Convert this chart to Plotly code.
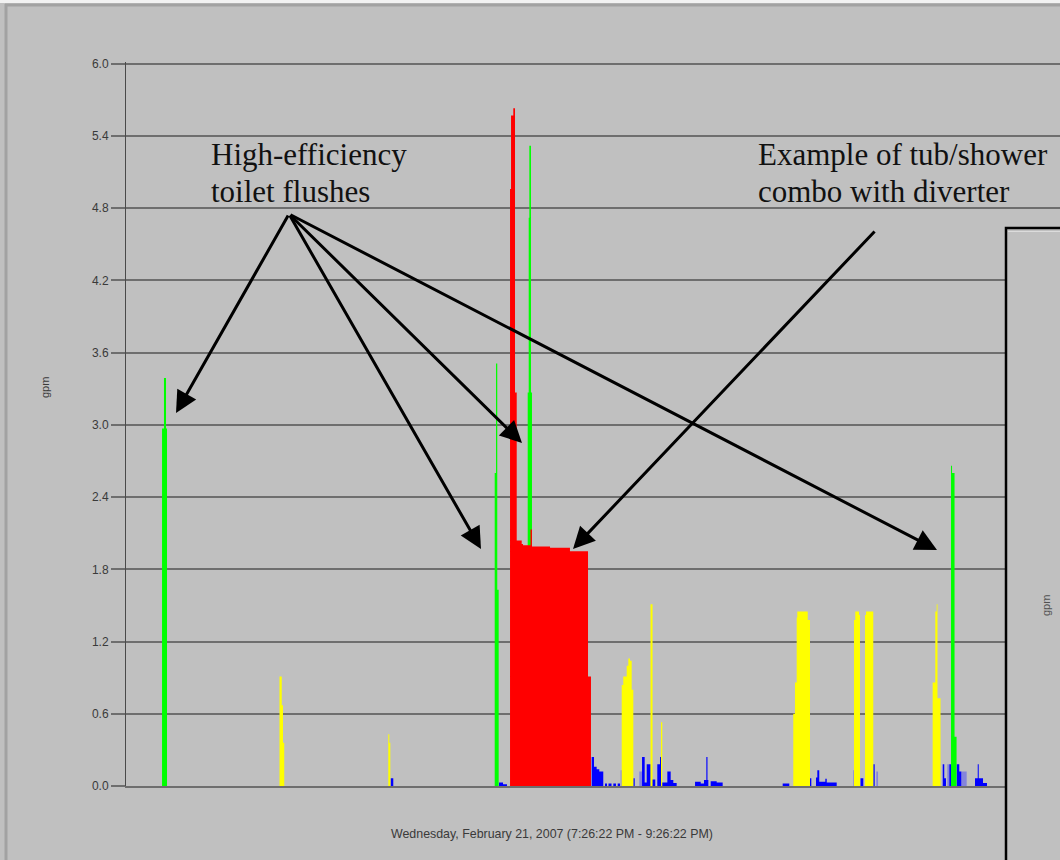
import plotly.graph_objects as go

# ---------------- data (minutes after 7:26:22 PM, flow in gpm) ----------------
GREEN_T = [4.63, 4.88, 5.14, 5.27,
           47.37, 47.54, 47.70, 47.88,
           51.61, 51.74, 51.82, 52.03, 52.16,
           106.00, 106.13, 106.45, 106.71]
GREEN_V = [2.97, 3.39, 2.97, 0,
           2.60, 3.51, 1.63, 0,
           3.27, 4.72, 5.32, 3.27, 0,
           2.66, 2.60, 0.41, 0]

RED_T = [49.34, 49.47, 49.76, 49.98, 50.20, 50.84, 51.01, 51.97, 52.16,
         54.48, 57.04, 59.36, 59.74]
RED_V = [4.96, 5.57, 5.63, 3.27, 2.04, 2.01, 2.00, 2.13, 1.99,
         1.98, 1.95, 0.91, 0]

YELLOW_T = [19.72, 20.01, 20.17, 20.33,
            33.70, 33.83, 33.96,
            63.69, 63.89, 64.33, 64.54, 64.75, 64.97, 65.18,
            67.39, 67.65,
            68.74, 68.90,
            85.73, 85.95, 86.17, 86.25, 87.59, 87.88,
            93.53, 93.70, 94.18, 94.30,
            94.95, 95.08, 96.01,
            103.64, 103.98, 104.16, 104.26, 104.65]
YELLOW_V = [0.91, 0.67, 0.36, 0,
            0.43, 0.36, 0,
            0.84, 0.91, 1.00, 1.06, 1.04, 0.80, 0,
            1.51, 0,
            0.53, 0,
            0.60, 0.86, 1.40, 1.45, 1.38, 0,
            1.38, 1.45, 1.42, 0,
            1.42, 1.45, 0,
            0.86, 1.45, 1.51, 0.73, 0]

BLUE_T = [34.01, 34.34,
          47.92, 48.44, 48.95,
          59.83, 60.13, 60.47, 60.81, 61.32,
          61.54, 61.80, 61.99, 62.38, 62.61, 62.95, 63.17, 63.47,
          65.18, 65.36,
          66.30, 66.64, 66.90, 67.41, 67.58, 68.00,
          68.26, 68.61, 68.78, 69.55, 69.98, 70.32, 70.75,
          73.11, 73.84, 74.26, 74.56, 74.71, 74.82,
          75.12, 75.89, 76.66,
          84.37, 85.22,
          87.88, 88.05,
          88.65, 88.82, 89.07, 89.85, 90.03, 91.31,
          94.37, 94.73,
          96.01, 96.19,
          104.93, 105.13, 105.35,
          105.78, 106.09,
          106.73, 107.06, 107.32,
          109.08, 109.43, 109.56, 110.11, 110.62]
BLUE_V = [0.065, 0,
          0.03, 0.015, 0,
          0.24, 0.16, 0.14, 0.12, 0,
          0.02, 0, 0.02, 0, 0.02, 0, 0.02, 0,
          0.065, 0,
          0.24, 0.03, 0.18, 0, 0.055, 0,
          0.18, 0.24, 0.03, 0.12, 0.05, 0.025, 0,
          0.035, 0.02, 0.05, 0.24, 0.05, 0,
          0.04, 0.03, 0,
          0.02, 0,
          0.065, 0,
          0.07, 0.13, 0.035, 0.06, 0.03, 0,
          0.065, 0,
          0.18, 0,
          0.18, 0.065, 0,
          0.18, 0,
          0.18, 0.12, 0,
          0.065, 0.18, 0.065, 0.025, 0]

OTHER_T = [63.55, 63.69, 65.95, 66.30, 93.44, 93.53, 96.40, 96.62,
           105.52, 105.78, 107.32, 108.01]
OTHER_V = [0.13, 0, 0.12, 0, 0.13, 0, 0.12, 0,
           0.18, 0, 0.12, 0]

Y_TICKS = [0.0, 0.6, 1.2, 1.8, 2.4, 3.0, 3.6, 4.2, 4.8, 5.4, 6.0]
X_TITLE = "Wednesday, February 21, 2007 (7:26:22 PM - 9:26:22 PM)"
Y_TITLE = "gpm"
NOTE_TOILET = ["High-efficiency", "toilet flushes"]
NOTE_SHOWER = ["Example of tub/shower", "combo with diverter"]

# ---------------- layout geometry ----------------
W, H = 1060, 860
L, R, T, B = 126, 0, 62, 74
X_MAX = 120.0
Y_MAX = 6.015
PW, PH = W - L - R, H - T - B


def xd(px):
    return (px - L) / PW * X_MAX


def yd(py):
    return (H - B - py) / PH * Y_MAX


def xp(px):
    return (px - L) / PW


def yp(py):
    return (H - B - py) / PH


BG = "#c0c0c0"
GRID = "#6e6e6e"

fig = go.Figure()

series = [
    (OTHER_T, OTHER_V, "#8484dc"),
    (BLUE_T, BLUE_V, "#0000ff"),
    (GREEN_T, GREEN_V, "#00ff00"),
    (YELLOW_T, YELLOW_V, "#ffff00"),
    (RED_T, RED_V, "#ff0000"),
]
for xs, ys, c in series:
    fig.add_trace(go.Scatter(
        x=xs, y=ys, mode="lines",
        line=dict(shape="hv", width=0, color=c),
        fill="tozeroy", fillcolor=c,
        hoverinfo="skip", showlegend=False,
    ))

fig.update_layout(
    width=W, height=H,
    margin=dict(l=L, r=R, t=T, b=B, pad=0),
    paper_bgcolor=BG, plot_bgcolor=BG,
    showlegend=False,
)
fig.update_xaxes(range=[0, X_MAX], showgrid=False, zeroline=False,
                 showticklabels=False, ticks="", showline=True,
                 linecolor=GRID, linewidth=2)
fig.update_yaxes(range=[0, Y_MAX], tickvals=Y_TICKS, tickformat=".1f",
                 ticks="outside", ticklen=14, tickwidth=2, tickcolor=GRID,
                 showgrid=True, gridcolor=GRID, gridwidth=2,
                 showline=True, linecolor="#4a4a4a", linewidth=1,
                 zeroline=False,
                 tickfont=dict(family="Liberation Sans", size=12, color="#3a3a3a"))

# outer window frame
fig.add_shape(type="rect", xref="paper", yref="paper",
              x0=xp(-5), x1=xp(1070), y0=yp(3), y1=yp(-5),
              line=dict(width=0), fillcolor="#f2f2f2", layer="above")
fig.add_shape(type="line", xref="paper", yref="paper",
              x0=xp(5), x1=xp(1070), y0=yp(5), y1=yp(5),
              line=dict(color="#a2a2a2", width=3), layer="above")
fig.add_shape(type="line", xref="paper", yref="paper",
              x0=xp(6), x1=xp(6), y0=yp(4), y1=yp(870),
              line=dict(color="#a2a2a2", width=3), layer="above")

# overlapping second panel at right
fig.add_shape(type="rect", xref="paper", yref="paper",
              x0=xp(1006), x1=xp(1080), y0=yp(880), y1=yp(228),
              line=dict(color="black", width=2.5), fillcolor=BG, layer="above")
fig.add_shape(type="line", xref="paper", yref="paper",
              x0=xp(1008), x1=xp(1070), y0=yp(231.5), y1=yp(231.5),
              line=dict(color="#dcdcdc", width=1), layer="above")
fig.add_annotation(x=xp(1046), y=yp(606), xref="paper", yref="paper",
                   xanchor="center", yanchor="middle",
                   text=Y_TITLE, showarrow=False, textangle=-90,
                   font=dict(family="Liberation Sans", size=11, color="#505050"))

# axis titles
fig.add_annotation(x=xp(45), y=yp(388), xref="paper", yref="paper",
                   xanchor="center", yanchor="middle",
                   text=Y_TITLE, showarrow=False, textangle=-90,
                   font=dict(family="Liberation Sans", size=11, color="#3a3a3a"))
fig.add_annotation(x=xp(552), y=yp(834), xref="paper", yref="paper",
                   xanchor="center", yanchor="middle",
                   text=X_TITLE, showarrow=False,
                   font=dict(family="Liberation Sans", size=12.4, color="#3a3a3a"))

# callout texts, one annotation per line (baselines ~164.5 and ~201.5 px)
for px, lines in [(209, NOTE_TOILET), (755.7, NOTE_SHOWER)]:
    for base, text in zip([164.5, 201.5], lines):
        fig.add_annotation(x=xd(px), y=yd(base - 10), xref="x", yref="y", text=text,
                           showarrow=False, xanchor="left", yanchor="middle",
                           align="left",
                           font=dict(family="Liberation Serif", size=31, color="#111111"))

# arrows (tip, tail) in pixel positions
ARROWS = [((176, 413), (289, 214)), ((481, 549), (289, 214)),
          ((522, 443), (289, 214)), ((937, 550), (289, 214)),
          ((573, 549), (876, 230))]
for tip, tail in ARROWS:
    fig.add_annotation(x=xd(tip[0]), y=yd(tip[1]), ax=xd(tail[0]), ay=yd(tail[1]),
                       xref="x", yref="y", axref="x", ayref="y", text="",
                       showarrow=True, arrowhead=2, arrowsize=1.45,
                       arrowwidth=3, arrowcolor="black")

fig.write_html("out.html", config={"displayModeBar": False},
               post_script="document.body.style.margin='0px';")
